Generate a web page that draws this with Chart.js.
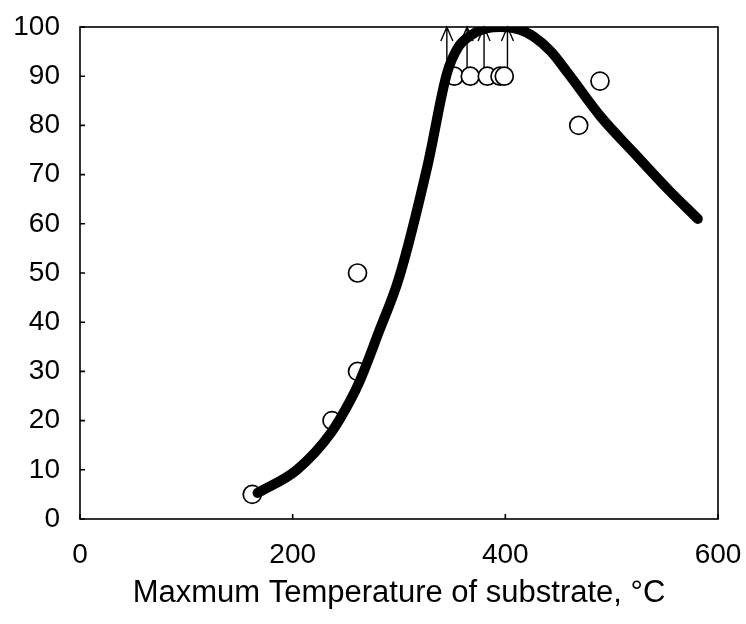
<!DOCTYPE html>
<html>
<head>
<meta charset="utf-8">
<script src="https://cdn.jsdelivr.net/npm/chart.js@4.4.1/dist/chart.umd.min.js"></script>
<style>
  html, body { margin: 0; padding: 0; background: #fff; }
</style>
</head>
<body>
<canvas id="chart" width="746" height="624"></canvas>
<script>
// fitted curve
const curveX = [167, 204, 236, 254, 263, 281, 300, 327, 345, 356, 369, 382, 396, 413, 427, 443, 459, 490, 521, 553, 581];
const curveY = [5.3, 10, 17.5, 24, 28, 38, 49, 72, 90.5, 96, 98.5, 99.7, 100, 99.5, 98, 95, 90.6, 81.7, 74.4, 67, 61];

// measured points (open circles)
const measX = [162, 237, 261, 261, 352, 367, 383, 395, 399, 469, 489];
const measY = [5, 20, 30, 50, 90, 90, 90, 90, 90, 80, 89];

// arrows: value is at least 90, pointing up to 100
const arrowX = [345, 364, 380, 402];
const arrowFrom = 90;
const arrowTo = 100;

const xTicks = [0, 200, 400, 600];
const yTicks = [0, 10, 20, 30, 40, 50, 60, 70, 80, 90, 100];

const FONT = "'Liberation Sans', Arial, sans-serif";
const circleR = 9;

const framePlugin = {
  id: 'frame',
  afterDatasetsDraw(chart) {
    const { ctx, chartArea: a, scales: { x, y } } = chart;
    ctx.save();
    ctx.strokeStyle = '#000';
    ctx.lineWidth = 1.6;
    ctx.strokeRect(a.left, a.top, a.right - a.left, a.bottom - a.top);
    ctx.beginPath();
    yTicks.forEach(v => {
      const py = y.getPixelForValue(v);
      ctx.moveTo(a.left, py);
      ctx.lineTo(a.left + 5, py);
    });
    xTicks.forEach(v => {
      const px = x.getPixelForValue(v);
      ctx.moveTo(px, a.bottom);
      ctx.lineTo(px, a.bottom - 5);
    });
    ctx.stroke();

    // arrows
    ctx.lineWidth = 1.4;
    ctx.beginPath();
    arrowX.forEach(v => {
      const px = x.getPixelForValue(v);
      const y0 = y.getPixelForValue(arrowFrom) - circleR;
      const y1 = y.getPixelForValue(arrowTo);
      ctx.moveTo(px, y0);
      ctx.lineTo(px, y1);
      ctx.moveTo(px - 6, y1 + 14);
      ctx.lineTo(px, y1);
      ctx.lineTo(px + 6, y1 + 14);
    });
    ctx.stroke();
    ctx.restore();
  }
};

const chart = new Chart(document.getElementById('chart'), {
  type: 'scatter',
  data: {
    datasets: [
      {
        label: 'curve',
        type: 'line',
        data: curveX.map((v, i) => ({ x: v, y: curveY[i] })),
        borderColor: '#000',
        borderWidth: 10,
        borderCapStyle: 'round',
        borderJoinStyle: 'round',
        cubicInterpolationMode: 'monotone',
        pointRadius: 0,
        fill: false,
        order: 0
      },
      {
        label: 'measured',
        data: measX.map((v, i) => ({ x: v, y: measY[i] })),
        pointStyle: 'circle',
        pointRadius: circleR,
        pointBackgroundColor: '#fff',
        pointBorderColor: '#000',
        pointBorderWidth: 1.7,
        order: 1
      }
    ]
  },
  options: {
    responsive: false,
    animation: false,
    layout: { padding: { top: 27, right: 28, left: 0, bottom: 0 } },
    plugins: {
      legend: { display: false },
      tooltip: { enabled: false }
    },
    scales: {
      x: {
        type: 'linear',
        min: 0,
        max: 600,
        grid: { display: false },
        border: { display: false },
        afterBuildTicks: s => { s.ticks = xTicks.map(v => ({ value: v })); },
        afterFit: s => { s.height = 105; s.paddingLeft = 0; s.paddingRight = 0; },
        ticks: { color: '#000', padding: 11, maxRotation: 0, font: { family: FONT, size: 28 } },
        title: {
          display: true,
          text: 'Maxmum Temperature of substrate, °C',
          color: '#000',
          font: { family: FONT, size: 31 },
          padding: { top: 0, bottom: 12 }
        }
      },
      y: {
        min: 0,
        max: 100,
        grid: { display: false },
        border: { display: false },
        afterBuildTicks: s => { s.ticks = yTicks.map(v => ({ value: v })); },
        afterFit: s => { s.width = 80; s.paddingTop = 0; s.paddingBottom = 0; },
        ticks: { color: '#000', padding: 12, font: { family: FONT, size: 28 } }
      }
    }
  },
  plugins: [framePlugin]
});
</script>
</body>
</html>
